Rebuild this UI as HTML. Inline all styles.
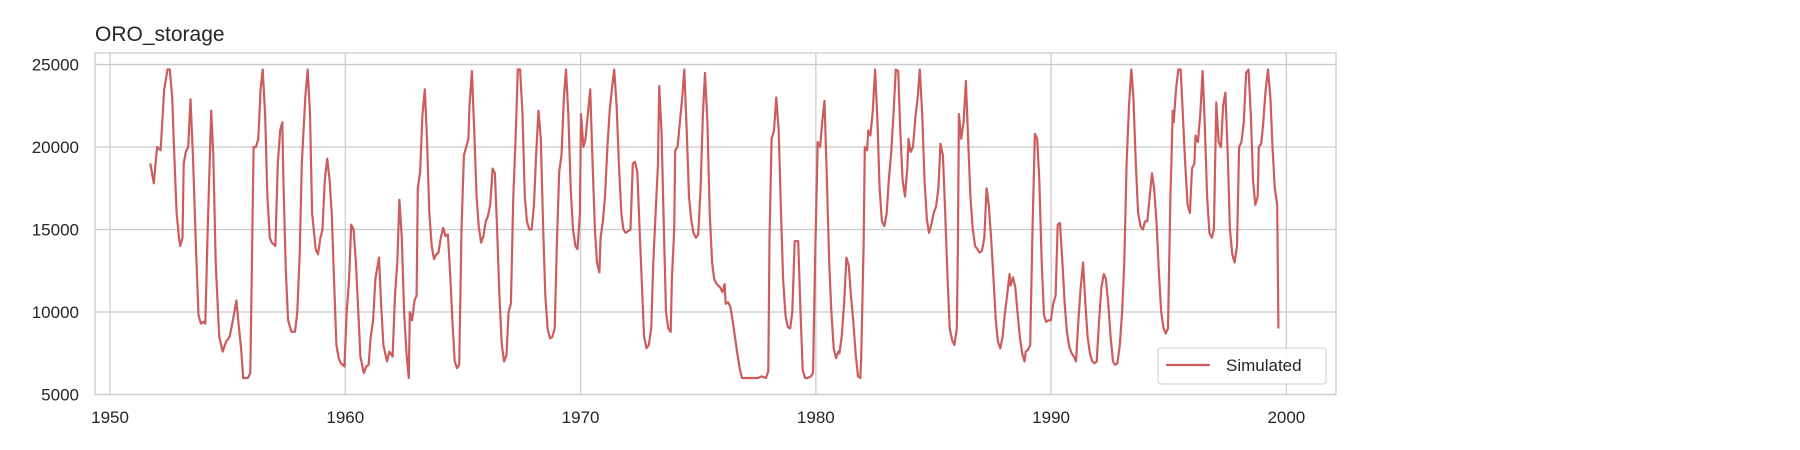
<!DOCTYPE html>
<html><head><meta charset="utf-8"><style>
html,body{margin:0;padding:0;background:#fff;}
svg{display:block;font-family:"Liberation Sans",Arial,sans-serif;}
</style></head><body>
<svg id="chart" width="1800" height="450" viewBox="0 0 1800 450">
<text x="95" y="41" font-size="21" fill="#262626">ORO_storage</text>
<g id="grid"></g>
<rect x="95" y="53" width="1241" height="341.5" fill="none" stroke="#cccccc" stroke-width="1.3"/>
<g id="ticks"></g>
<g id="series"></g>
<g>
<rect x="1158" y="348" width="168" height="36" rx="3" fill="#fff" fill-opacity="0.8" stroke="#cccccc" stroke-width="1"/>
<line x1="1166" y1="365" x2="1210" y2="365" stroke="#cd5c5c" stroke-width="2.2"/>
<text x="1226" y="371" font-size="17" fill="#262626">Simulated</text>
</g>
</svg>
<script>
const years=[1951.71,1951.86,1952.0,1952.15,1952.3,1952.44,1952.54,1952.64,1952.73,1952.83,1952.93,1952.98,1953.08,1953.13,1953.22,1953.32,1953.42,1953.52,1953.66,1953.76,1953.86,1953.96,1954.05,1954.15,1954.3,1954.39,1954.49,1954.64,1954.79,1954.93,1955.08,1955.22,1955.37,1955.47,1955.57,1955.66,1955.86,1955.96,1956.05,1956.1,1956.2,1956.3,1956.4,1956.49,1956.59,1956.69,1956.79,1956.88,1957.03,1957.13,1957.23,1957.32,1957.37,1957.47,1957.57,1957.71,1957.86,1957.96,1958.06,1958.15,1958.3,1958.4,1958.5,1958.59,1958.74,1958.84,1958.94,1959.03,1959.13,1959.23,1959.33,1959.42,1959.52,1959.62,1959.72,1959.81,1959.96,1960.06,1960.16,1960.25,1960.35,1960.45,1960.55,1960.64,1960.79,1960.89,1960.99,1961.08,1961.18,1961.28,1961.43,1961.52,1961.62,1961.77,1961.87,1962.01,1962.11,1962.21,1962.3,1962.4,1962.5,1962.6,1962.7,1962.74,1962.84,1962.94,1963.03,1963.08,1963.18,1963.28,1963.38,1963.47,1963.57,1963.67,1963.77,1963.87,1963.96,1964.06,1964.16,1964.26,1964.36,1964.45,1964.55,1964.65,1964.75,1964.84,1964.94,1965.04,1965.14,1965.23,1965.28,1965.38,1965.48,1965.58,1965.67,1965.77,1965.87,1965.97,1966.06,1966.16,1966.26,1966.36,1966.45,1966.55,1966.65,1966.75,1966.85,1966.94,1967.04,1967.14,1967.24,1967.33,1967.43,1967.53,1967.63,1967.72,1967.82,1967.92,1968.02,1968.11,1968.21,1968.31,1968.41,1968.5,1968.6,1968.7,1968.8,1968.9,1968.99,1969.09,1969.19,1969.29,1969.38,1969.48,1969.58,1969.68,1969.78,1969.87,1969.97,1970.02,1970.12,1970.21,1970.31,1970.41,1970.51,1970.61,1970.7,1970.8,1970.85,1970.95,1971.04,1971.14,1971.24,1971.33,1971.43,1971.53,1971.63,1971.73,1971.82,1971.92,1972.02,1972.12,1972.22,1972.31,1972.41,1972.51,1972.61,1972.7,1972.8,1972.9,1973.0,1973.09,1973.19,1973.29,1973.34,1973.44,1973.54,1973.63,1973.73,1973.83,1973.88,1973.98,1974.02,1974.12,1974.22,1974.32,1974.41,1974.51,1974.61,1974.71,1974.8,1974.9,1975.0,1975.1,1975.2,1975.29,1975.39,1975.49,1975.59,1975.68,1975.78,1975.93,1976.03,1976.12,1976.17,1976.27,1976.37,1976.46,1976.56,1976.66,1976.76,1976.86,1977.05,1977.29,1977.54,1977.69,1977.88,1977.98,1978.03,1978.12,1978.22,1978.32,1978.42,1978.52,1978.61,1978.71,1978.81,1978.91,1979.0,1979.1,1979.25,1979.35,1979.44,1979.54,1979.64,1979.79,1979.88,1979.98,1980.08,1980.18,1980.27,1980.37,1980.47,1980.57,1980.66,1980.76,1980.86,1980.96,1981.0,1981.1,1981.2,1981.3,1981.4,1981.49,1981.59,1981.69,1981.79,1981.89,1981.93,1982.03,1982.08,1982.18,1982.23,1982.32,1982.42,1982.52,1982.62,1982.71,1982.81,1982.91,1983.01,1983.1,1983.2,1983.3,1983.4,1983.5,1983.59,1983.69,1983.79,1983.89,1983.94,1984.03,1984.13,1984.23,1984.33,1984.42,1984.52,1984.62,1984.72,1984.81,1984.91,1985.01,1985.11,1985.21,1985.3,1985.4,1985.5,1985.6,1985.69,1985.79,1985.89,1985.99,1986.04,1986.08,1986.18,1986.28,1986.38,1986.47,1986.57,1986.67,1986.77,1986.87,1986.96,1987.06,1987.16,1987.26,1987.35,1987.45,1987.55,1987.65,1987.74,1987.84,1987.94,1988.04,1988.13,1988.23,1988.28,1988.38,1988.48,1988.57,1988.67,1988.77,1988.87,1988.92,1989.01,1989.11,1989.21,1989.31,1989.41,1989.5,1989.6,1989.7,1989.79,1989.89,1989.99,1990.09,1990.19,1990.28,1990.38,1990.48,1990.58,1990.67,1990.77,1990.87,1990.97,1991.06,1991.16,1991.26,1991.36,1991.46,1991.55,1991.65,1991.75,1991.85,1991.94,1992.04,1992.14,1992.24,1992.33,1992.43,1992.53,1992.63,1992.72,1992.82,1992.92,1993.02,1993.11,1993.21,1993.31,1993.41,1993.5,1993.6,1993.7,1993.8,1993.9,1993.99,1994.09,1994.19,1994.29,1994.38,1994.48,1994.58,1994.68,1994.78,1994.87,1994.97,1995.07,1995.12,1995.17,1995.21,1995.31,1995.41,1995.51,1995.6,1995.7,1995.8,1995.9,1995.99,1996.09,1996.14,1996.24,1996.34,1996.44,1996.53,1996.63,1996.73,1996.83,1996.92,1997.02,1997.12,1997.22,1997.31,1997.41,1997.51,1997.6,1997.7,1997.8,1997.9,1997.99,1998.09,1998.19,1998.29,1998.39,1998.49,1998.58,1998.68,1998.78,1998.83,1998.93,1999.02,1999.12,1999.22,1999.32,1999.41,1999.51,1999.61,1999.66];
const storage=[19000,17800,20000,19800,23500,24700,24700,23000,19500,16000,14500,14000,14500,19000,19700,20000,22900,19500,13500,9800,9300,9400,9300,15000,22200,19500,13000,8500,7600,8200,8500,9500,10700,9200,7800,6000,6000,6300,15000,20000,20000,20500,23500,24700,22000,17000,14500,14200,14000,19000,21000,21500,18000,12500,9500,8800,8800,10000,13500,19000,23000,24700,22000,16000,13800,13500,14500,15000,18000,19300,18000,16000,12000,8000,7200,6900,6700,10000,12000,15300,15000,13000,10000,7300,6300,6700,6800,8500,9500,12000,13300,10500,8000,7000,7600,7300,11000,13000,16800,14500,10000,7500,6000,10000,9500,10700,11000,17500,18500,22000,23500,20500,16000,14000,13200,13500,13600,14500,15100,14600,14700,12500,9500,7000,6600,6800,15000,19500,20000,20500,22500,24600,21000,17000,15200,14200,14600,15500,15800,16500,18700,18400,15000,11000,8000,7000,7400,10000,10500,17000,20500,24700,24700,22000,17000,15500,15000,15000,16500,19500,22200,20500,15000,11000,9000,8400,8500,9000,14000,18500,19500,23000,24700,22000,17500,15000,14000,13800,16000,22000,20000,20500,22000,23500,19000,15000,13000,12400,14500,15500,17000,20000,22300,23500,24700,22500,19000,16000,15000,14800,14900,15000,19000,19100,18500,15000,11500,8500,7800,8000,9000,13000,16000,19000,23700,21000,15000,10000,9000,8800,12000,15000,19800,20000,21500,23000,24700,21000,17000,15500,14800,14500,14700,17500,22000,24500,21500,16000,13000,12000,11700,11500,11200,11700,10500,10600,10300,9500,8500,7500,6600,6000,6000,6000,6000,6100,6000,6400,14500,20500,21000,23000,21000,16000,12000,9800,9100,9000,10000,14300,14300,10000,6500,6000,6000,6100,6300,14000,20300,20000,21500,22800,18000,13000,10000,7800,7200,7600,7500,8500,10500,13300,12800,11000,9500,7500,6100,6000,7200,14000,20000,19800,21000,20700,22200,24700,21500,17500,15500,15200,16000,18000,19600,22000,24700,24600,21000,18000,17000,18800,20500,19700,20000,21800,23000,24700,22000,18000,15600,14800,15300,16000,16400,17500,20200,19500,16000,12000,9000,8300,8000,9000,14000,22000,20500,21500,24000,20500,17000,15000,14000,13800,13600,13700,14500,17500,16500,14500,12000,9500,8200,7800,8500,10000,11000,12300,11600,12100,11500,10000,8500,7500,7000,7600,7700,8000,15000,20800,20500,18000,13000,9800,9400,9500,9500,10500,11000,15300,15400,13000,10500,8800,7900,7500,7300,7000,9500,11500,13000,10500,8500,7500,7000,6900,7000,9500,11500,12300,12000,10500,8500,7000,6800,6900,8000,10000,13000,19000,22500,24700,23000,19000,16000,15200,15000,15500,15500,17000,18400,17500,15500,12500,10000,9000,8700,9000,17000,19500,22200,21500,23500,24700,24700,22000,19000,16500,16000,18700,19000,20700,20300,22000,24600,21500,17000,14800,14500,15000,22700,20300,20000,22500,23300,19500,15000,13500,13000,14000,20000,20300,21500,24500,24700,22000,18000,16500,17000,20000,20200,21500,23500,24700,23000,20000,17500,16500,9000];
const xTicks=[1950,1960,1970,1980,1990,2000];
const yTicks=[5000,10000,15000,20000,25000];

const NS='http://www.w3.org/2000/svg';
const X0=95,X1=1336,Y0=53,Y1=394.5;
const xMin=1949.36,xMax=2002.11,yMin=5000,yMax=25700;
function xs(v){return X0+(v-xMin)/(xMax-xMin)*(X1-X0);}
function ys(v){return Y1-(v-yMin)/(yMax-yMin)*(Y1-Y0);}
function mk(tag,attrs){const e=document.createElementNS(NS,tag);for(const k in attrs)e.setAttribute(k,attrs[k]);return e;}
const grid=document.getElementById('grid'),ticks=document.getElementById('ticks'),series=document.getElementById('series');
xTicks.forEach(t=>{
  const l=mk('line',{x1:xs(t),x2:xs(t),y1:Y0,y2:Y1,stroke:'#cccccc','stroke-width':1.3});
  
  
  grid.appendChild(l);
  const tx=mk('text',{x:xs(t),y:423,'text-anchor':'middle','font-size':17,fill:'#262626'});
  tx.textContent=t;
  
  
  ticks.appendChild(tx);
});
yTicks.forEach(t=>{
  const l=mk('line',{x1:X0,x2:X1,y1:ys(t),y2:ys(t),stroke:'#cccccc','stroke-width':1.3});
  
  
  grid.appendChild(l);
  const tx=mk('text',{x:79,y:ys(t)+6,'text-anchor':'end','font-size':17,fill:'#262626'});
  tx.textContent=t;
  
  
  ticks.appendChild(tx);
});
let d='';
years.forEach((yr,i)=>{d+=(i?'L':'M')+xs(yr).toFixed(1)+','+ys(storage[i]).toFixed(1);});
const p=mk('path',{d:d,fill:'none',stroke:'#cd5c5c','stroke-width':2.2,'stroke-linejoin':'round'});


series.appendChild(p);
</script>
</body></html>
